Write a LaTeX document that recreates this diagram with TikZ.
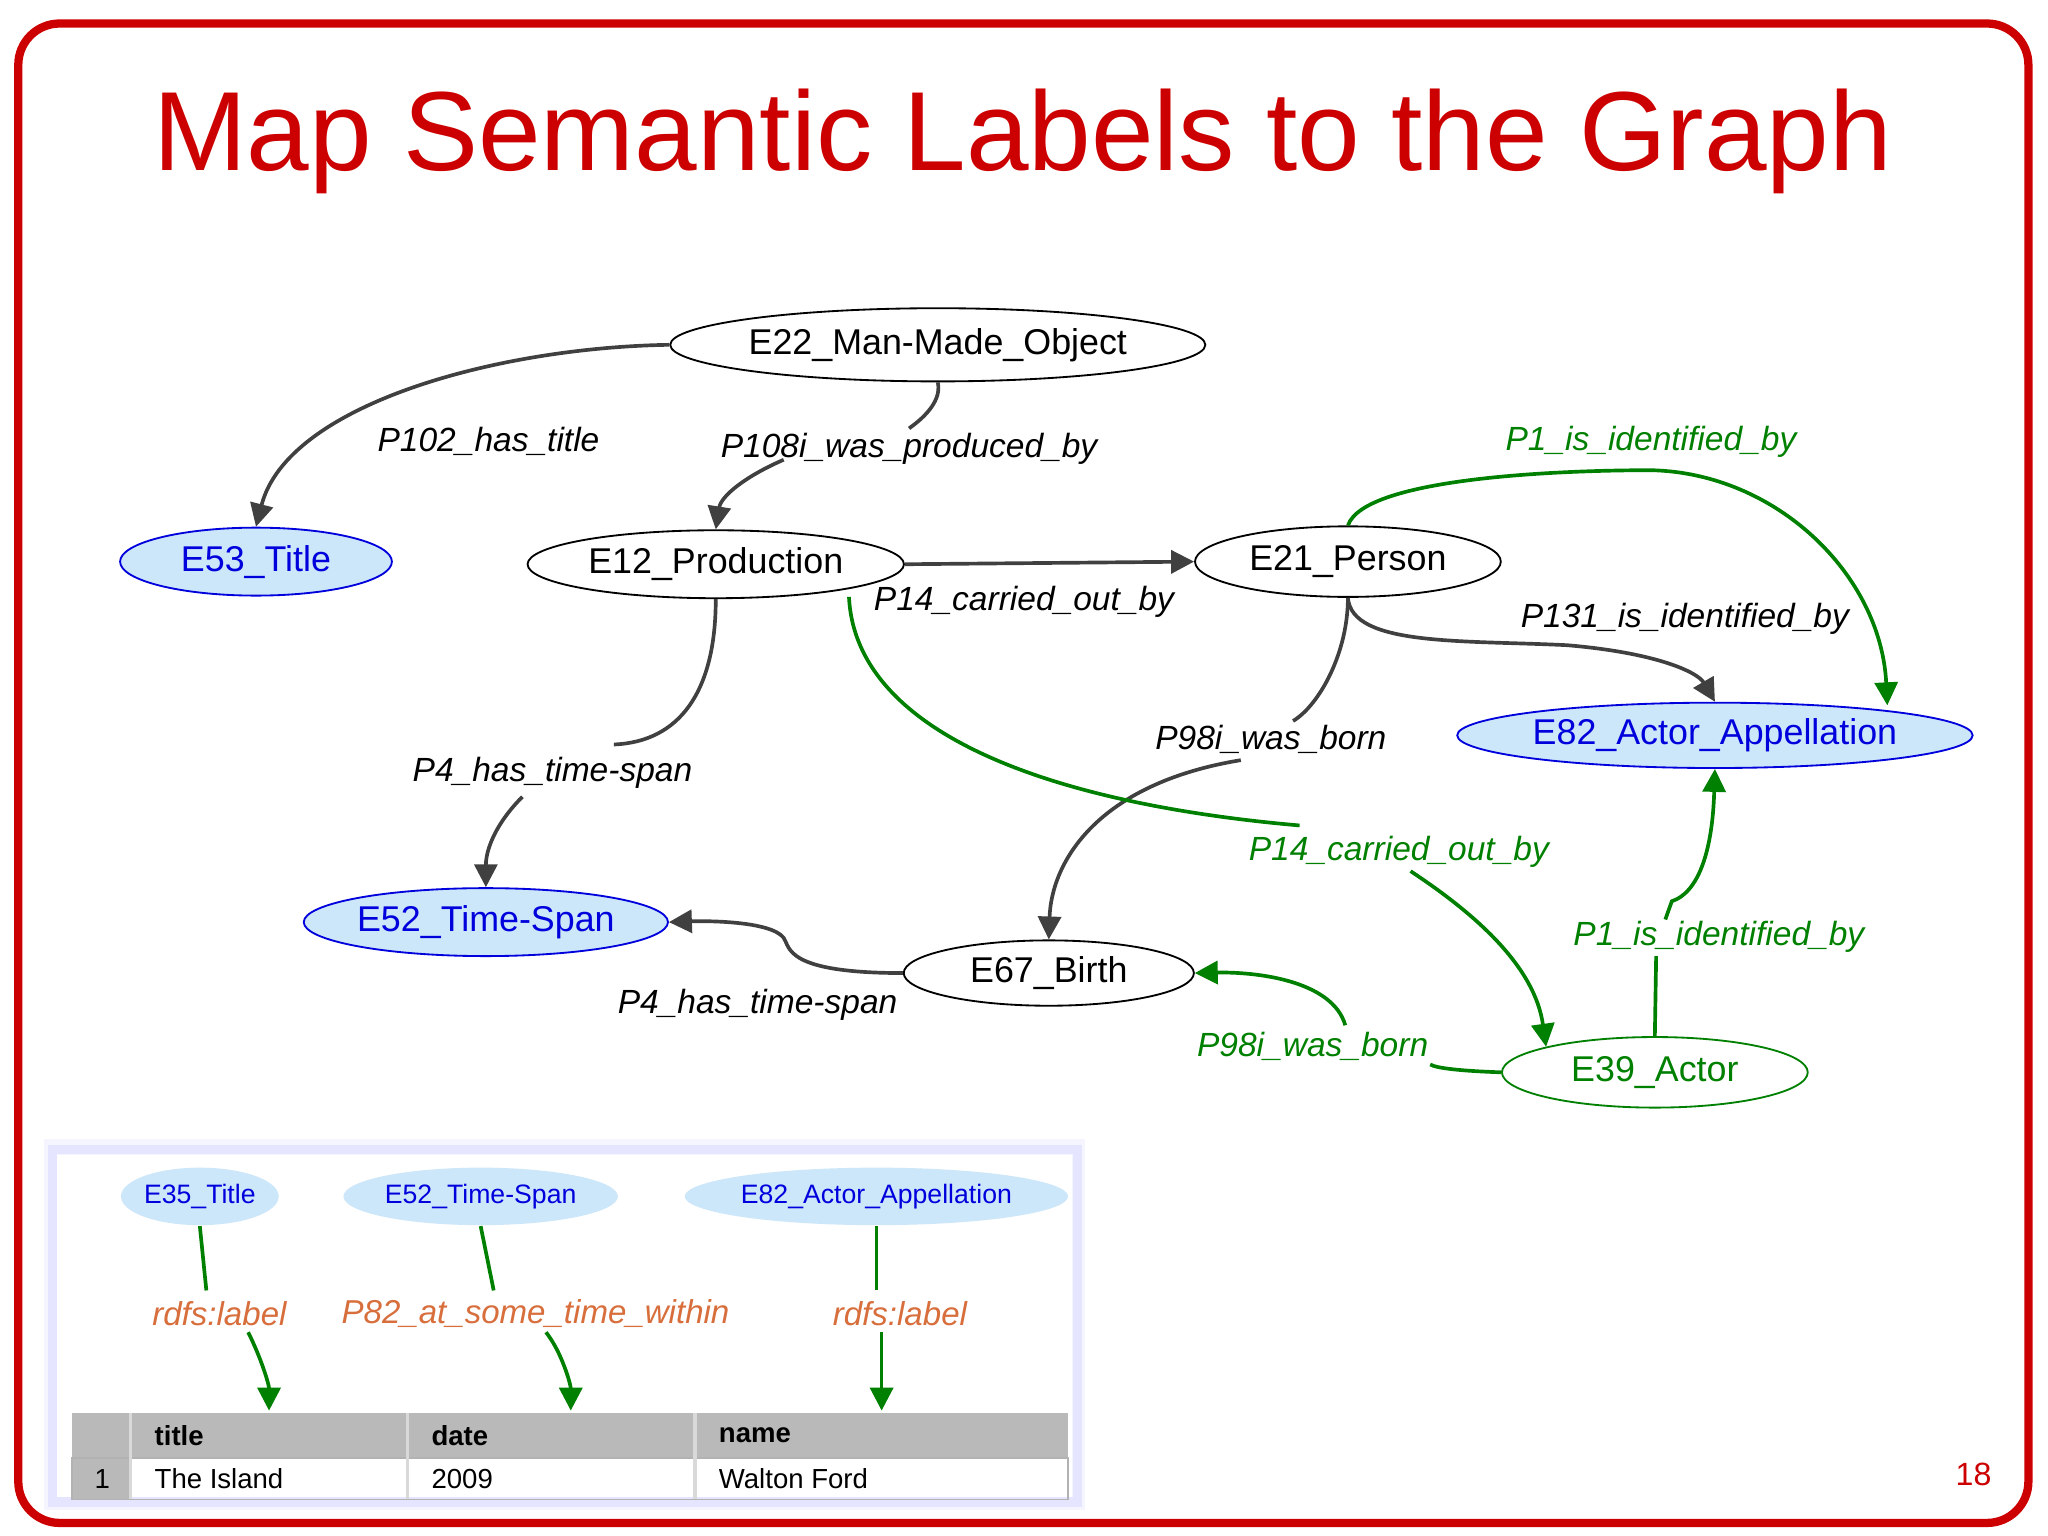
\documentclass[tikz,border=0pt]{standalone}
\usepackage{fontspec}
\setmainfont{Liberation Sans}
\usetikzlibrary{arrows.meta, shapes.geometric}
\definecolor{slidered}{RGB}{204,0,0}
\definecolor{linkgreen}{RGB}{0,128,0}
\definecolor{classblue}{RGB}{0,0,220}
\definecolor{classfill}{RGB}{204,230,250}
\definecolor{labelorange}{RGB}{215,110,60}
\tikzset{
  cls/.style={draw, ellipse, inner sep=0pt, font=\fontsize{7.8}{9}\selectfont},
  blu/.style={cls, draw=classblue, fill=classfill, text=classblue},
  grn/.style={cls, draw=linkgreen, text=linkgreen},
  lnk/.style={draw=black!75, thick, -{Triangle[length=5pt,width=5pt]}},
  glnk/.style={lnk, draw=linkgreen},
  prop/.style={font=\fontsize{7.3}{9}\selectfont\itshape},
  gprop/.style={prop, text=linkgreen},
  small/.style={font=\fontsize{5.8}{7}\selectfont},
}
\begin{document}
\begin{tikzpicture}[x=0.01cm, y=-0.01cm]
  \useasboundingbox (0,0) rectangle (1568,1176);
  \draw[slidered, line width=1.8pt, rounded corners=9pt] (14,18) rectangle (1553,1166);
  \node[text=slidered, font=\fontsize{24.5}{28}\selectfont] (title) at (783,108) {Map Semantic Labels to the Graph};
  \node[text=slidered, font=\fontsize{7}{8}\selectfont] (page) at (1511,1129) {18};

  % graph
  \node[cls, minimum width=3.92cm, minimum height=0.56cm] (e22) at (718,264) {E22\_Man-Made\_Object};
  \node[blu, minimum width=2.08cm, minimum height=0.52cm] (e53) at (196,430) {E53\_Title};
  \node[cls, minimum width=2.88cm, minimum height=0.52cm] (e12) at (548,432) {E12\_Production};
  \node[cls, minimum width=2.34cm, minimum height=0.54cm] (e21) at (1032,430) {E21\_Person};
  \node[blu, minimum width=3.78cm, minimum height=0.50cm] (e82) at (1313,563) {E82\_Actor\_Appellation};
  \node[blu, minimum width=2.74cm, minimum height=0.52cm] (e52) at (372,706) {E52\_Time-Span};
  \node[cls, minimum width=2.22cm, minimum height=0.50cm] (e67) at (803,745) {E67\_Birth};
  \node[grn, minimum width=2.34cm, minimum height=0.54cm] (e39) at (1267,821) {E39\_Actor};

  \draw[lnk] (e22.west) .. controls (380,266) and (220,310) .. (e53.north);
  \node[prop] (p102) at (374,338) {P102\_has\_title};
  \draw[lnk] (e22.south) .. controls (722,310) and (700,325) .. (696,328) (600,352) .. controls (570,365) and (552,380) .. (e12.north);
  \node[prop, inner sep=1pt] (p108) at (696,344) {P108i\_was\_produced\_by};
  \draw[lnk] (e12.east) -- (e21.west);
  \node[prop] (p14) at (784,461) {P14\_carried\_out\_by};
  \draw[glnk] (e21.north) .. controls (1045,365) and (1200,360) .. (1264,360) .. controls (1360,362) and (1440,440) .. (1445,540);
  \node[gprop] (p1a) at (1264,338) {P1\_is\_identified\_by};
  \draw[lnk] (e21.south) .. controls (1035,495) and (1120,490) .. (1200,494) .. controls (1270,500) and (1300,515) .. (e82.north);
  \node[prop] (p131) at (1290,474) {P131\_is\_identified\_by};
  \draw[lnk] (e21.south) .. controls (1032,500) and (1010,540) .. (990,552) (950,582) .. controls (840,600) and (805,660) .. (e67.north);
  \node[prop] (p98a) at (973,566) {P98i\_was\_born};
  \draw[lnk] (e12.south) .. controls (548,530) and (520,568) .. (470,570) (400,610) .. controls (380,630) and (372,650) .. (e52.north);
  \node[prop] (p4a) at (423,592) {P4\_has\_time-span};
  \draw[linkgreen, thick] (650,457) .. controls (655,560) and (800,615) .. (995,632);
  \draw[glnk] (1080,667) .. controls (1130,700) and (1175,740) .. (e39.north west);
  \node[gprop] (p14b) at (1071,652) {P14\_carried\_out\_by};
  \draw[lnk] (e67.west) .. controls (600,745) and (605,725) .. (600,718) .. controls (590,705) and (540,705) .. (e52.east);
  \node[prop] (p4b) at (580,769) {P4\_has\_time-span};
  \draw[glnk] (e39.north) -- (1268,732) (1275,704) -- (1280,690) .. controls (1310,680) and (1312,620) .. (e82.south);
  \node[gprop] (p1b) at (1316,717) {P1\_is\_identified\_by};
  \draw[glnk] (e39.west) .. controls (1120,820) and (1100,818) .. (1095,815) (1030,785) .. controls (1020,750) and (960,744) .. (e67.east);
  \node[gprop] (p98b) at (1005,801) {P98i\_was\_born};

  % inset
  \fill[blue!4] (34,872) rectangle (831,1156);
  \draw[blue!10, line width=2pt] (40,880) rectangle (825,1150);
  \fill[white] (44,884) rectangle (821,1146);
  \node[small, ellipse, fill=classfill, text=classblue, minimum width=1.18cm, minimum height=0.44cm, inner sep=0pt] (t35) at (153,916) {E35\_Title};
  \node[small, ellipse, fill=classfill, text=classblue, minimum width=2.10cm, minimum height=0.44cm, inner sep=0pt] (t52) at (368,916) {E52\_Time-Span};
  \node[small, ellipse, fill=classfill, text=classblue, minimum width=2.92cm, minimum height=0.44cm, inner sep=0pt] (t82) at (671,916) {E82\_Actor\_Appellation};
  \node[font=\fontsize{7.2}{9}\selectfont\itshape, text=labelorange] (r1) at (168,1006) {rdfs:label};
  \node[font=\fontsize{7.2}{9}\selectfont\itshape, text=labelorange] (r2) at (410,1006) {P82\_at\_some\_time\_within};
  \node[font=\fontsize{7.2}{9}\selectfont\itshape, text=labelorange] (r3) at (689,1006) {rdfs:label};
  \draw[linkgreen, thick] (t35.south) -- (158,988);
  \draw[linkgreen, thick] (t52.south) -- (378,988);
  \draw[linkgreen, thick] (t82.south) -- (671,988);
  \fill[gray!55] (55,1082) rectangle (818,1116);
  \fill[gray!55] (55,1116) rectangle (100,1148);
  \draw[gray!60] (55,1116) rectangle (818,1148);
  \foreach \cx in {100,312,532} \draw[white!85!black, thick] (\cx,1082) -- (\cx,1148);
  \coordinate (c1) at (206,1080);
  \coordinate (c2) at (437,1080);
  \coordinate (c3) at (675,1080);
  \draw[glnk] (190,1020) .. controls (200,1040) and (206,1060) .. (c1);
  \draw[glnk] (418,1020) .. controls (430,1035) and (437,1060) .. (c2);
  \draw[glnk] (675,1020) -- (c3);
  \node[font=\fontsize{6}{7}\selectfont\bfseries, anchor=west] (h1) at (106,1099) {title};
  \node[font=\fontsize{6}{7}\selectfont\bfseries, anchor=west] (h2) at (318,1099) {date};
  \node[font=\fontsize{6}{7}\selectfont\bfseries, anchor=west] (h3) at (538,1099) {name};
  \node[font=\fontsize{6}{7}\selectfont, anchor=west] (n1) at (60,1132) {1};
  \node[font=\fontsize{6}{7}\selectfont, anchor=west] (v1) at (106,1132) {The Island};
  \node[font=\fontsize{6}{7}\selectfont, anchor=west] (v2) at (318,1132) {2009};
  \node[font=\fontsize{6}{7}\selectfont, anchor=west] (v3) at (538,1132) {Walton Ford};
\end{tikzpicture}
\end{document}
